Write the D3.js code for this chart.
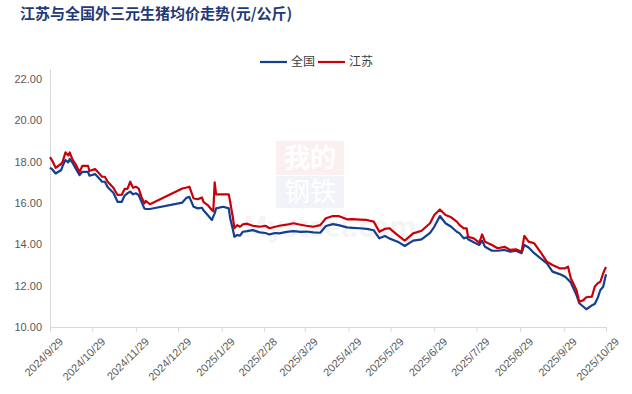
<!DOCTYPE html>
<html>
<head>
<meta charset="utf-8">
<script src="https://cdn.jsdelivr.net/npm/d3@7"></script>
<style>
  html, body { margin: 0; padding: 0; background: #fff; }
  svg { display: block; }
</style>
</head>
<body>
<div id="chart"></div>
<script>
// 江苏与全国外三元生猪均价 (元/公斤)
const dates = [
  '2024-09-29','2024-10-01','2024-10-03','2024-10-07','2024-10-08','2024-10-10','2024-10-12','2024-10-13',
  '2024-10-15','2024-10-17','2024-10-20','2024-10-22','2024-10-26','2024-10-27','2024-10-31','2024-11-02',
  '2024-11-05','2024-11-07','2024-11-09','2024-11-13','2024-11-16','2024-11-19','2024-11-21','2024-11-23',
  '2024-11-25','2024-11-27','2024-11-29','2024-12-01','2024-12-03','2024-12-05','2024-12-06','2024-12-09',
  '2025-01-01','2025-01-04','2025-01-06','2025-01-09','2025-01-12','2025-01-15','2025-01-16','2025-01-19',
  '2025-01-22','2025-01-23','2025-01-24','2025-01-25','2025-01-30','2025-02-03','2025-02-04','2025-02-06',
  '2025-02-07','2025-02-09','2025-02-11','2025-02-13','2025-02-16','2025-02-20','2025-02-25','2025-03-01',
  '2025-03-04','2025-03-08','2025-03-11','2025-03-16','2025-03-21','2025-03-26','2025-03-30','2025-04-04',
  '2025-04-09','2025-04-13','2025-04-18','2025-04-22','2025-04-28','2025-05-02','2025-05-07','2025-05-12',
  '2025-05-17','2025-05-21','2025-05-25','2025-05-28','2025-06-03','2025-06-08','2025-06-14','2025-06-20',
  '2025-06-26','2025-06-29','2025-07-03','2025-07-07','2025-07-11','2025-07-15','2025-07-17','2025-07-20',
  '2025-07-22','2025-07-23','2025-07-27','2025-07-31','2025-08-02','2025-08-04','2025-08-09','2025-08-13',
  '2025-08-18','2025-08-22','2025-08-26','2025-08-30','2025-09-01','2025-09-04','2025-09-08','2025-09-13',
  '2025-09-17','2025-09-21','2025-09-26','2025-09-30','2025-10-02','2025-10-04','2025-10-08','2025-10-10',
  '2025-10-13','2025-10-15','2025-10-19','2025-10-21','2025-10-23','2025-10-25','2025-10-27','2025-10-29'
];

const national = [
  17.71,17.6,17.43,17.6,17.8,18.08,17.97,18.13,
  17.95,17.7,17.35,17.51,17.51,17.32,17.4,17.26,
  17.03,17.03,16.76,16.5,16.06,16.06,16.36,16.47,
  16.55,16.42,16.47,16.39,16.06,15.74,15.71,15.71,
  16.02,16.25,16.3,15.82,15.74,15.77,15.65,15.42,
  15.18,15.34,15.5,15.74,15.82,15.74,15.26,14.69,
  14.37,14.45,14.42,14.61,14.64,14.69,14.58,14.55,
  14.48,14.55,14.53,14.6,14.64,14.6,14.62,14.58,
  14.56,14.89,14.98,14.93,14.82,14.8,14.78,14.75,
  14.68,14.29,14.4,14.29,14.13,13.92,14.18,14.24,
  14.56,14.85,15.37,15.02,14.85,14.61,14.53,14.29,
  14.34,14.25,14.1,13.97,14.18,13.88,13.69,13.69,
  13.73,13.64,13.69,13.57,13.97,13.85,13.57,13.3,
  13.08,12.68,12.56,12.43,12.3,12.15,11.55,11.15,
  10.98,10.86,11.05,11.11,11.39,11.79,11.95,12.55
];

const jiangsu = [
  18.22,18.0,17.7,17.9,18.0,18.45,18.3,18.45,
  18.1,17.9,17.5,17.8,17.8,17.55,17.65,17.5,
  17.27,17.27,17.03,16.74,16.39,16.4,16.68,16.68,
  17.03,16.74,16.79,16.7,16.3,15.98,16.1,15.94,
  16.7,16.75,16.79,16.22,16.19,16.26,16.06,15.9,
  15.66,15.6,17.0,16.42,16.42,16.42,16.06,15.26,
  14.78,14.93,14.85,14.97,15.0,14.9,14.85,14.9,
  14.78,14.85,14.9,14.95,15.02,14.95,14.9,14.85,
  14.93,15.26,15.37,15.37,15.21,15.22,15.2,15.18,
  15.1,14.61,14.75,14.78,14.45,14.18,14.53,14.66,
  15.02,15.42,15.69,15.42,15.31,15.1,14.93,14.77,
  14.77,14.37,14.29,14.08,14.48,14.13,13.97,13.81,
  13.88,13.73,13.76,13.64,14.41,14.13,14.05,13.57,
  13.16,13.0,12.84,12.84,12.92,12.36,11.79,11.22,
  11.3,11.44,11.47,11.95,12.11,12.19,12.6,12.9
];

const seriesNames = ['全国', '江苏'];
const seriesColors = ['#123f8f', '#c8000a'];
const xTickLabels = ['2024/9/29','2024/10/29','2024/11/29','2024/12/29','2025/1/29','2025/2/28',
  '2025/3/29','2025/4/29','2025/5/29','2025/6/29','2025/7/29','2025/8/29','2025/9/29','2025/10/29'];
const yTicks = [10, 12, 14, 16, 18, 20, 22];

const W = 632, H = 394;
const parse = d3.timeParse('%Y-%m-%d');
const parseTick = d3.timeParse('%Y/%m/%d');

const svg = d3.select('#chart').append('svg')
  .attr('width', W).attr('height', H)
  .style('font-family', '"Microsoft YaHei","Noto Sans CJK SC","Noto Sans",sans-serif');

const x = d3.scaleTime()
  .domain([parseTick('2024/9/29'), parseTick('2025/10/29')])
  .range([50, 606]);
const y = d3.scaleLinear().domain([10, 22.5]).range([327, 68.7]);

// 水印 (很淡)
const wm = svg.append('g').attr('opacity', 0.06);
wm.append('rect').attr('x', 276).attr('y', 141).attr('width', 68).attr('height', 34).attr('fill', '#c00000');
wm.append('text').attr('x', 310).attr('y', 167).attr('text-anchor', 'middle')
  .attr('fill', '#fff').style('font-size', '26px').style('font-weight', 'bold').text('我的');
wm.append('rect').attr('x', 276).attr('y', 176).attr('width', 68).attr('height', 32).attr('fill', '#1f3f8f');
wm.append('text').attr('x', 310).attr('y', 201).attr('text-anchor', 'middle')
  .attr('fill', '#fff').style('font-size', '26px').text('钢铁');
wm.append('text').attr('x', 330).attr('y', 237).attr('text-anchor', 'middle')
  .attr('fill', '#555').style('font-size', '28px').style('font-weight', 'bold').text('Mysteel.com');

// 标题
svg.append('text')
  .attr('x', 20).attr('y', 19)
  .attr('fill', '#1f3a78')
  .style('font-family', '"Noto Sans CJK SC",sans-serif')
  .style('font-size', '15px')
  .style('font-weight', 'bold')
  .text('江苏与全国外三元生猪均价走势(元/公斤)');

// y 轴
const yAxis = svg.append('g')
  .attr('transform', 'translate(50,0)')
  .call(d3.axisLeft(y).tickValues(yTicks).tickSize(0).tickPadding(8).tickFormat(d3.format('.2f')));
yAxis.select('.domain').attr('stroke', '#d9d9d9');
yAxis.selectAll('text').attr('fill', '#595959').style('font-size', '11px')
  .style('font-family', '"Liberation Sans",Arial,sans-serif');

// x 轴
const xAxis = svg.append('g')
  .attr('transform', 'translate(0,327)')
  .call(d3.axisBottom(x).tickValues(xTickLabels.map(parseTick)).tickSize(5).tickSizeOuter(0)
    .tickFormat((d, i) => xTickLabels[i]));
xAxis.select('.domain').attr('stroke', '#d9d9d9');
xAxis.selectAll('line').attr('stroke', '#d9d9d9');
xAxis.selectAll('text')
  .attr('fill', '#595959').style('font-size', '11px')
  .style('font-family', '"Liberation Sans",Arial,sans-serif')
  .attr('text-anchor', 'end')
  .attr('dy', '0.35em')
  .attr('transform', 'translate(5,7) rotate(-45)');

// 折线
const line = d3.line()
  .x((d, i) => x(parse(dates[i])))
  .y(d => y(d));

[national, jiangsu].forEach((vals, k) => {
  svg.append('path')
    .datum(vals)
    .attr('fill', 'none')
    .attr('stroke', seriesColors[k])
    .attr('stroke-width', 2.2)
    .attr('stroke-linejoin', 'round')
    .attr('d', line);
});

// 图例
const legend = svg.append('g').attr('transform', 'translate(260,62)');
seriesNames.forEach((name, k) => {
  const g = legend.append('g').attr('transform', `translate(${k * 58},0)`);
  g.append('line').attr('x1', 0).attr('x2', 27).attr('y1', 0).attr('y2', 0)
    .attr('stroke', seriesColors[k]).attr('stroke-width', 2.2);
  g.append('text').attr('x', 31).attr('y', 0).attr('dy', '0.36em')
    .attr('fill', '#404040').style('font-size', '12px').text(name);
});
</script>
</body>
</html>
